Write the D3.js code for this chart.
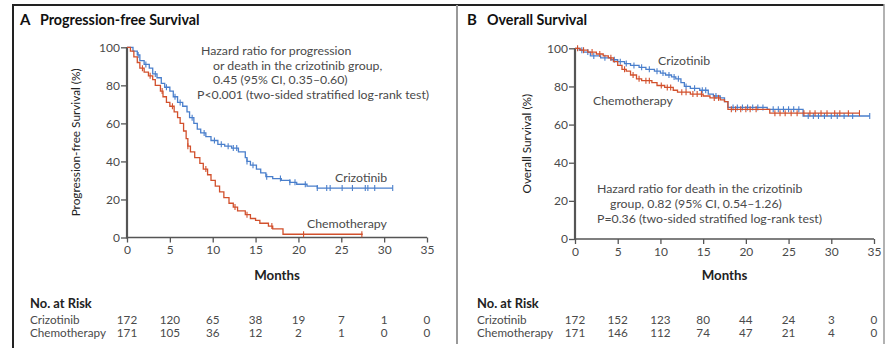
<!DOCTYPE html>
<html>
<head>
<meta charset="utf-8">
<script src="https://cdn.jsdelivr.net/npm/d3@7"></script>
<style>
  html, body { margin: 0; padding: 0; background: #fff; }
  svg { display: block; }
  text { font-family: Lato, "Open Sans", sans-serif; }
</style>
</head>
<body>
<svg id="chart" width="896" height="348"></svg>
<script>
// ---- Data -------------------------------------------------------------
const monthTicks = [0, 5, 10, 15, 20, 25, 30, 35];
const pctTicks = [0, 20, 40, 60, 80, 100];

// Progression-free survival: step times (months) and survival (%)
const pfsCrizTime = [0, 0.7, 1.2, 1.5, 2.0, 2.6, 3.0, 3.5, 4.0, 4.4, 5.0, 5.4, 5.9, 6.5, 7.0, 7.3, 7.8, 8.2, 8.6, 9.2, 9.8, 10.6, 11.4, 12.2, 13.0, 13.8, 14.0, 14.4, 15.1, 15.6, 16.2, 17.0, 18.0, 19.0, 19.8, 21.0, 22.2, 31.0];
const pfsCrizSurv = [100, 98, 96, 93, 91, 89, 86, 84, 81, 79, 77, 74, 71, 69, 66, 63, 60, 57, 55, 53, 51, 49, 48, 47, 45, 42, 40, 38, 36, 34, 32, 31, 30, 29, 28, 27, 26, 26];
const pfsCrizCensor = [1.3, 2.2, 3.3, 4.6, 5.6, 6.2, 7.6, 9.0, 10.2, 11.0, 11.8, 12.4, 12.8, 14.0, 14.7, 16.3, 17.9, 19.0, 19.6, 20.8, 22.2, 23.3, 23.7, 25.1, 26.3, 27.8, 28.1, 28.9, 31.0];

const pfsChemoTime = [0, 0.4, 0.8, 1.2, 1.5, 2.0, 2.5, 3.0, 3.3, 3.9, 4.2, 4.6, 5.0, 5.5, 5.9, 6.2, 6.6, 6.9, 7.1, 7.4, 7.9, 8.5, 8.9, 9.4, 9.8, 10.3, 10.8, 11.3, 11.9, 12.4, 12.9, 13.8, 14.4, 15.0, 15.5, 16.5, 17.0, 18.2, 27.5];
const pfsChemoSurv = [100, 98, 95, 92, 89, 87, 85, 83, 80, 77, 74, 71, 69, 66, 63, 60, 56, 52, 48, 45, 42, 39, 36, 33, 30, 27, 24, 21, 18, 16, 14, 12, 10, 9, 7.5, 6, 4.5, 1.7, 1.7];
const pfsChemoCensor = [1.8, 2.7, 4.1, 5.3, 7.1, 9.2, 12.6, 14.0, 16.9, 20.6, 27.4];

// Overall survival
const osCrizTime = [0, 0.5, 1.0, 1.8, 3.0, 4.2, 5.0, 5.8, 6.5, 7.5, 8.3, 9.3, 10.0, 10.6, 11.3, 11.8, 12.4, 12.8, 13.5, 14.6, 15.6, 16.2, 17.0, 17.5, 17.9, 22.5, 26.7, 34.5];
const osCrizSurv = [100, 99, 98, 96, 95, 94, 93, 92, 91, 90, 89, 88, 87, 86, 85, 84, 82, 80, 79, 78, 76, 75, 74, 72, 69, 68, 64.5, 64.5];
const osCrizCensor = [0.8, 1.5, 2.2, 3.5, 4.6, 5.3, 6.0, 6.9, 7.8, 8.7, 9.6, 10.3, 11.0, 11.6, 12.1, 13.0, 14.0, 14.9, 15.3, 16.5, 18.5, 19.0, 19.6, 20.2, 20.8, 21.4, 22.0, 23.2, 23.8, 24.4, 25.0, 25.6, 26.2, 27.3, 27.9, 28.5, 29.2, 30.0, 30.7, 31.5, 32.5, 34.5];

const osChemoTime = [0, 0.6, 1.5, 2.5, 3.3, 3.9, 4.5, 5.0, 5.5, 6.0, 6.5, 7.2, 7.8, 9.0, 9.6, 10.5, 11.5, 12.0, 13.5, 15.0, 15.8, 17.0, 17.5, 17.9, 22.8, 33.3];
const osChemoSurv = [100, 99, 98, 97, 96, 95, 93, 91, 89, 88, 86, 84, 83, 82, 80.5, 79.5, 78, 77, 76, 75, 74, 73, 72, 68, 66, 66];
const osChemoCensor = [0.3, 1.0, 2.0, 2.9, 4.2, 5.8, 6.8, 7.5, 8.3, 8.7, 10.1, 10.8, 11.2, 12.5, 13.0, 13.8, 14.3, 14.8, 16.3, 16.8, 18.3, 18.8, 19.4, 20.0, 20.5, 21.2, 23.4, 24.0, 24.6, 25.3, 26.0, 26.8, 27.5, 28.1, 28.8, 29.5, 30.4, 31.0, 32.0, 33.3];

// Number at risk
const riskGroups = ["Crizotinib", "Chemotherapy"];
const pfsRiskCriz = [172, 120, 65, 38, 19, 7, 1, 0];
const pfsRiskChemo = [171, 105, 36, 12, 2, 1, 0, 0];
const osRiskCriz = [172, 152, 123, 80, 44, 24, 3, 0];
const osRiskChemo = [171, 146, 112, 74, 47, 21, 4, 0];

// ---- Drawing ------------------------------------------------------------
const BLUE = "#4a7fcc";
const RED = "#d2502c";
const AXIS = "#555";
const TXT = "#4a4a4a";

const svg = d3.select("#chart");

// Outer frame lines
svg.append("line").attr("x1", 13).attr("x2", 884).attr("y1", 5).attr("y2", 5)
  .attr("stroke", "#222").attr("stroke-width", 2);
svg.append("line").attr("x1", 13).attr("x2", 13).attr("y1", 4).attr("y2", 348)
  .attr("stroke", "#222").attr("stroke-width", 2);
svg.append("line").attr("x1", 457).attr("x2", 457).attr("y1", 5).attr("y2", 344)
  .attr("stroke", "#999").attr("stroke-width", 2);
svg.append("line").attr("x1", 884).attr("x2", 884).attr("y1", 4).attr("y2", 344)
  .attr("stroke", "#999").attr("stroke-width", 1.5);

function drawPanel(cfg) {
  const g = svg.append("g");
  const x = d3.scaleLinear().domain([0, 35]).range([cfg.x0, cfg.x1]);
  const y = d3.scaleLinear().domain([0, 100]).range([cfg.y0, cfg.y1]);

  // Panel letter and title
  g.append("text").attr("x", cfg.letterX).attr("y", 25)
    .attr("font-size", 15).attr("font-weight", 700).attr("fill", "#111").text(cfg.letter);
  g.append("text").attr("x", cfg.letterX + 20).attr("y", 25)
    .attr("font-size", 14.3).attr("font-weight", 700).attr("fill", "#111").text(cfg.title);

  // Axes
  const xAxis = d3.axisBottom(x).tickValues(monthTicks).tickSize(5).tickPadding(3);
  const yAxis = d3.axisLeft(y).tickValues(pctTicks).tickSize(6).tickPadding(1);
  const gx = g.append("g").attr("transform", `translate(0,${cfg.y0})`).call(xAxis);
  const gy = g.append("g").attr("transform", `translate(${cfg.x0},0)`).call(yAxis);
  [gx, gy].forEach(a => {
    a.select(".domain").attr("stroke", AXIS);
    a.selectAll(".tick line").attr("stroke", AXIS).attr("stroke-width", 1.3);
    a.selectAll(".tick text").attr("fill", TXT).attr("font-size", 12)
      .attr("font-family", "Lato, 'Open Sans', sans-serif");
  });
  gx.select(".domain").attr("stroke-width", 1.6).attr("d", `M${cfg.x0},0H${cfg.x1}`);
  gy.select(".domain").attr("stroke-width", 2.2).attr("d", `M0,${cfg.y0 + 1}V${cfg.y1}`);

  // Axis titles
  g.append("text").attr("x", (cfg.x0 + cfg.x1) / 2).attr("y", 280)
    .attr("text-anchor", "middle").attr("font-size", 13.3).attr("font-weight", 700)
    .attr("fill", "#222").text("Months");
  g.append("text")
    .attr("transform", `translate(${cfg.yLabelX},${(cfg.y0 + cfg.y1) / 2}) rotate(-90)`)
    .attr("text-anchor", "middle").attr("font-size", 11.8).attr("fill", "#222")
    .text(cfg.yLabel);

  // Survival curves
  const line = d3.line().curve(d3.curveStepAfter).x(d => x(d[0])).y(d => y(d[1]));
  cfg.series.forEach(s => {
    const pts = s.time.map((t, i) => [t, s.surv[i]]);
    g.append("path").attr("d", line(pts)).attr("fill", "none")
      .attr("stroke", s.color).attr("stroke-width", 1.3);
    const valueAt = t => s.surv[Math.max(0, d3.bisectRight(s.time, t) - 1)];
    g.selectAll(null).data(s.censor).join("line")
      .attr("x1", d => x(d)).attr("x2", d => x(d))
      .attr("y1", d => y(valueAt(d)) - 3).attr("y2", d => y(valueAt(d)) + 3)
      .attr("stroke", s.color).attr("stroke-width", 1.1);
  });

  // Curve labels
  cfg.labels.forEach(l => {
    g.append("text").attr("x", l.x).attr("y", l.y).attr("font-size", 12.3)
      .attr("fill", TXT).text(l.text);
  });

  // Hazard ratio note
  cfg.note.forEach(n => {
    g.append("text").attr("x", n.x).attr("y", n.y).attr("font-size", 12.3)
      .attr("fill", TXT).text(n.text);
  });

  // Number at risk table
  g.append("text").attr("x", cfg.tableX).attr("y", 308).attr("font-size", 12.9)
    .attr("font-weight", 700).attr("fill", "#222").text("No. at Risk");
  cfg.risk.forEach((row, r) => {
    const yy = 324 + r * 12.5;
    g.append("text").attr("x", cfg.tableX).attr("y", yy).attr("font-size", 11.7)
      .attr("fill", TXT).text(riskGroups[r]);
    g.selectAll(null).data(row).join("text")
      .attr("x", (d, i) => x(monthTicks[i])).attr("y", yy)
      .attr("text-anchor", "middle").attr("font-size", 11.7).attr("fill", TXT)
      .text(d => d);
  });
}

drawPanel({
  letter: "A", title: "Progression-free Survival", letterX: 20,
  x0: 127, x1: 427, y0: 237.5, y1: 47.3, yLabelX: 80,
  yLabel: "Progression-free Survival (%)",
  series: [
    { time: pfsCrizTime, surv: pfsCrizSurv, censor: pfsCrizCensor, color: BLUE },
    { time: pfsChemoTime, surv: pfsChemoSurv, censor: pfsChemoCensor, color: RED }
  ],
  labels: [
    { text: "Crizotinib", x: 335, y: 182 },
    { text: "Chemotherapy", x: 307, y: 228 }
  ],
  note: [
    { text: "Hazard ratio for progression", x: 201, y: 55 },
    { text: "or death in the crizotinib group,", x: 213, y: 69.5 },
    { text: "0.45 (95% CI, 0.35\u20130.60)", x: 213, y: 84 },
    { text: "P<0.001 (two-sided stratified log-rank test)", x: 197, y: 98.5 }
  ],
  tableX: 30,
  risk: [pfsRiskCriz, pfsRiskChemo]
});

drawPanel({
  letter: "B", title: "Overall Survival", letterX: 467,
  x0: 575, x1: 874, y0: 239, y1: 48.3, yLabelX: 531,
  yLabel: "Overall Survival (%)",
  series: [
    { time: osCrizTime, surv: osCrizSurv, censor: osCrizCensor, color: BLUE },
    { time: osChemoTime, surv: osChemoSurv, censor: osChemoCensor, color: RED }
  ],
  labels: [
    { text: "Crizotinib", x: 658, y: 65 },
    { text: "Chemotherapy", x: 593, y: 105 }
  ],
  note: [
    { text: "Hazard ratio for death in the crizotinib", x: 597, y: 193 },
    { text: "group, 0.82 (95% CI, 0.54\u20131.26)", x: 610, y: 208 },
    { text: "P=0.36 (two-sided stratified log-rank test)", x: 597, y: 223 }
  ],
  tableX: 477,
  risk: [osRiskCriz, osRiskChemo]
});
</script>
</body>
</html>
